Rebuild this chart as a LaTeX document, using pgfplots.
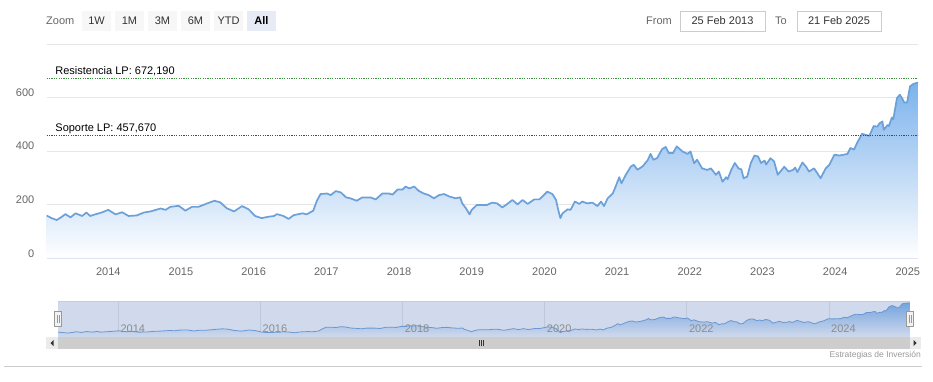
\documentclass[border=0pt]{standalone}
\usepackage{pgfplots}
\pgfplotsset{compat=1.18}
\usepackage{pgfplotstable}
\usepackage{fontspec}
\setmainfont{Liberation Sans}
\definecolor{linec}{RGB}{108,160,216}
\definecolor{fillc}{RGB}{124,178,236}
\definecolor{gridc}{RGB}{230,230,230}
\definecolor{labc}{RGB}{102,102,102}
\definecolor{axc}{RGB}{204,214,235}
\definecolor{maskc}{RGB}{102,133,194}
\definecolor{resc}{RGB}{60,140,60}
\definecolor{supc}{RGB}{190,20,35}
\definecolor{btnc}{RGB}{247,247,247}
\definecolor{btnsel}{RGB}{230,235,245}
\definecolor{txtc}{RGB}{51,51,51}
\definecolor{lgray}{RGB}{204,204,204}
\definecolor{midgray}{RGB}{153,153,153}
\definecolor{navlab}{RGB}{140,140,140}
\definecolor{handlef}{RGB}{242,242,242}
\definecolor{thumbc}{RGB}{205,205,205}
\definecolor{btnarrow}{RGB}{235,235,235}

\pgfplotstableread{
x y
2013.15 160
2013.22 150
2013.29 143
2013.35 153
2013.41 165
2013.48 153
2013.55 168
2013.64 158
2013.70 171
2013.75 158
2013.83 165
2013.91 171
2014.00 181
2014.10 164
2014.19 172
2014.28 158
2014.39 160
2014.49 171
2014.58 175
2014.72 186
2014.79 181
2014.85 192
2014.97 196
2015.06 178
2015.15 192
2015.24 192
2015.36 205
2015.46 215
2015.54 209
2015.63 187
2015.73 175
2015.84 195
2015.93 183
2016.02 158
2016.11 150
2016.20 155
2016.28 158
2016.32 165
2016.41 158
2016.48 147
2016.55 161
2016.67 168
2016.73 164
2016.82 178
2016.87 215
2016.92 240
2017.01 242
2017.06 236
2017.13 251
2017.20 246
2017.27 228
2017.33 224
2017.42 215
2017.49 227
2017.61 227
2017.68 220
2017.77 242
2017.86 242
2017.91 238
2017.98 257
2018.05 257
2018.09 268
2018.14 261
2018.21 268
2018.27 252
2018.34 242
2018.41 236
2018.48 224
2018.55 236
2018.62 240
2018.69 231
2018.78 224
2018.84 228
2018.87 205
2018.92 187
2018.97 164
2019.00 181
2019.07 199
2019.21 199
2019.28 208
2019.35 205
2019.42 190
2019.47 199
2019.56 218
2019.63 201
2019.70 218
2019.77 203
2019.86 220
2019.93 220
2019.97 230
2020.04 249
2020.11 240
2020.16 218
2020.19 181
2020.22 150
2020.25 168
2020.32 183
2020.36 181
2020.42 212
2020.48 203
2020.52 212
2020.59 205
2020.66 208
2020.73 195
2020.78 212
2020.82 195
2020.87 224
2020.94 242
2020.98 268
2021.03 303
2021.06 280
2021.12 312
2021.19 343
2021.23 349
2021.28 331
2021.35 343
2021.42 366
2021.46 390
2021.50 368
2021.55 374
2021.62 408
2021.67 416
2021.71 393
2021.77 393
2021.82 418
2021.90 399
2021.97 390
2022.01 399
2022.06 355
2022.10 368
2022.17 336
2022.24 330
2022.29 336
2022.36 312
2022.40 324
2022.45 286
2022.50 303
2022.52 295
2022.57 330
2022.62 356
2022.67 336
2022.71 332
2022.74 299
2022.79 305
2022.84 356
2022.89 384
2022.94 380
2022.98 356
2023.03 365
2023.05 350
2023.11 374
2023.16 362
2023.21 312
2023.30 342
2023.36 324
2023.42 330
2023.45 339
2023.48 322
2023.55 358
2023.60 342
2023.64 324
2023.71 336
2023.80 299
2023.87 336
2023.92 349
2023.99 387
2024.06 384
2024.12 387
2024.17 390
2024.21 412
2024.26 406
2024.30 430
2024.37 465
2024.42 461
2024.47 457
2024.53 494
2024.58 492
2024.61 504
2024.65 511
2024.67 480
2024.72 498
2024.74 494
2024.78 526
2024.80 519
2024.85 598
2024.89 611
2024.92 598
2024.95 582
2024.99 582
2025.03 642
2025.08 652
2025.14 656
}\pricedata

\begin{document}
\begin{tikzpicture}[x=1pt,y=1pt]
\fill[white] (0,0) rectangle (933,381);

% ---- range selector ----
\node[anchor=west, inner sep=0pt, text=labc, font=\fontsize{11}{13}\selectfont] at (46,360) {Zoom};
\foreach \xa/\xb/\lab in {82/111/1W, 115/144/1M, 148/177/3M, 181/210/6M, 214/243/YTD}{
  \fill[btnc] (\xa,350) rectangle (\xb,370);
  \node[inner sep=0pt, text=txtc, font=\fontsize{11}{13}\selectfont] at ({(\xa+\xb)/2},360) {\lab};
}
\fill[btnsel] (247,350) rectangle (276,370);
\node[inner sep=0pt, text=black, font=\fontsize{11}{13}\selectfont\bfseries] at (261.5,360) {All};
\node[anchor=west, inner sep=0pt, text=labc, font=\fontsize{11}{13}\selectfont] at (646,360) {From};
\draw[lgray, fill=white] (680,350) rectangle (765,370);
\node[inner sep=0pt, text=txtc, font=\fontsize{11}{13}\selectfont] at (722.5,360) {25 Feb 2013};
\node[anchor=west, inner sep=0pt, text=labc, font=\fontsize{11}{13}\selectfont] at (775,360) {To};
\draw[lgray, fill=white] (797,350) rectangle (881,370);
\node[inner sep=0pt, text=txtc, font=\fontsize{11}{13}\selectfont] at (839,360) {21 Feb 2025};

% ---- main chart ----
\begin{axis}[at={(46.5pt,122.7pt)}, anchor=south west, scale only axis,
  width=871.5pt, height=214.2pt,
  xmin=2013.15, xmax=2025.14, ymin=0, ymax=800,
  axis lines*=left,
  x axis line style={axc, line width=1pt},
  y axis line style={draw=none},
  tick style={draw=none},
  ytick={0,200,400,600,800}, yticklabels={0,200,400,600,{}},
  xtick={2014,2015,2016,2017,2018,2019,2020,2021,2022,2023,2024,2025},
  xticklabels={2014,2015,2016,2017,2018,2019,2020,2021,2022,2023,2024,2025},
  ymajorgrids, grid style={gridc, line width=1pt},
  yticklabel style={anchor=east, inner sep=0pt, xshift=-12pt, yshift=5pt, text=labc, font=\fontsize{11}{13}\selectfont},
  xticklabel style={anchor=north, inner sep=0pt, yshift=-9.4pt, text=labc, font=\fontsize{11}{13}\selectfont},
  clip=true]
\addplot[draw=none, top color=fillc, bottom color=white] table[x=x,y=y] {\pricedata} \closedcycle;
\addplot[draw=linec, mark=none, line width=1.7pt, line join=round] table[x=x,y=y] {\pricedata};
\addplot[draw=resc, mark=none, line width=1pt, dash pattern=on 1.2pt off 1.2pt] coordinates {(2013.15,672.19) (2025.14,672.19)};
\addplot[draw=supc, mark=none, line width=1pt, dash pattern=on 1.2pt off 1.2pt] coordinates {(2013.15,457.67) (2025.14,457.67)};
\node[anchor=base west, inner sep=0pt, yshift=4pt, font=\fontsize{11}{13}\selectfont] at (axis cs:2013.27,672.19) {Resistencia LP: 672,190};
\node[anchor=base west, inner sep=0pt, yshift=4pt, font=\fontsize{11}{13}\selectfont] at (axis cs:2013.27,457.67) {Soporte LP: 457,670};
\end{axis}

% ---- navigator ----
\begin{axis}[at={(58pt,44pt)}, anchor=south west, scale only axis,
  width=852pt, height=36pt,
  xmin=2013.15, xmax=2025.14, ymin=75, ymax=690,
  axis line style={draw=none},
  tick style={draw=none},
  ytick=\empty,
  xtick={2014,2016,2018,2020,2022,2024},
  xticklabels=\empty,
  xmajorgrids, grid style={gridc, line width=0.8pt},
  clip=true]
\addplot[draw=none, top color=fillc, bottom color=white] table[x=x,y=y] {\pricedata} \closedcycle;
\addplot[draw=linec, mark=none, line width=0.8pt] table[x=x,y=y] {\pricedata};
\fill[maskc, opacity=0.3] (rel axis cs:0,0) rectangle (rel axis cs:1,1);
\pgfplotsinvokeforeach{2014,2016,2018,2020,2022,2024}{
  \node[anchor=south west, inner sep=0pt, xshift=2pt, yshift=4pt, text=navlab, font=\fontsize{11}{13}\selectfont] at (axis cs:#1,75) {#1};
}
\end{axis}
\draw[lgray, line width=0.8pt] (58,80) -- (910,80);
% handles
\foreach \hx in {58,910}{
  \draw[midgray, fill=handlef] (\hx-3.5,55) rectangle (\hx+3.5,70);
  \draw[midgray] (\hx-1,58.5) -- (\hx-1,66.5) (\hx+1,58.5) -- (\hx+1,66.5);
}

% ---- scrollbar ----
\fill[handlef] (46,32) rectangle (921,44);
\fill[thumbc] (58,32) rectangle (910,44);
\fill[btnarrow] (46,32) rectangle (58,44);
\fill[btnarrow] (910,32) rectangle (921,44);
\fill[txtc] (50.5,38) -- (53.5,41) -- (53.5,35) -- cycle;
\fill[txtc] (916.5,38) -- (913.5,41) -- (913.5,35) -- cycle;
\draw[txtc, line width=0.8pt] (479.5,35) -- (479.5,41) (481.5,35) -- (481.5,41) (483.5,35) -- (483.5,41);

% ---- credit and bottom rule ----
\node[anchor=east, inner sep=0pt, text=midgray, font=\fontsize{8.5}{10}\selectfont] at (921,26) {Estrategias de Inversión};
\draw[lgray, line width=0.8pt] (4,15) -- (922,15);
\end{tikzpicture}
\end{document}
